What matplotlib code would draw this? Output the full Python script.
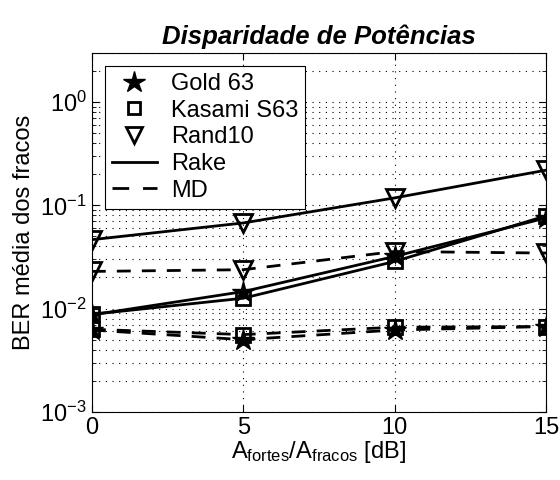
import numpy as np
import matplotlib.pyplot as plt

plt.rcParams['font.family'] = ['Liberation Sans', 'DejaVu Sans']
plt.rcParams['mathtext.fontset'] = 'custom'
plt.rcParams['mathtext.rm'] = 'Liberation Sans'
plt.rcParams['mathtext.it'] = 'Liberation Sans'

# dados
snr = [0, 5, 10, 15]
gold_rake = [0.0087, 0.0146, 0.032, 0.0755]
gold_md = [0.0062, 0.0050, 0.0062, 0.0067]
kasami_rake = [0.0088, 0.0126, 0.0286, 0.079]
kasami_md = [0.0063, 0.0056, 0.0066, 0.0067]
rand_rake = [0.0465, 0.0675, 0.118, 0.219]
rand_md = [0.0229, 0.0238, 0.0357, 0.0345]

fig = plt.figure(figsize=(5.6, 4.8), dpi=100)
ax = fig.add_axes([0.164, 0.142, 0.811, 0.748])

lw = 2
ms = 13
ax.semilogy(snr, gold_rake, 'k-', marker='*', ms=ms + 3, lw=lw)
ax.semilogy(snr, kasami_rake, 'k-', marker='s', ms=ms - 3, mfc='none', mew=lw, lw=lw)
ax.semilogy(snr, rand_rake, 'k-', marker='v', ms=ms, mfc='none', mew=lw, lw=lw)
ax.semilogy(snr, gold_md, 'k--', marker='*', ms=ms + 3, lw=lw, dashes=(5, 4))
ax.semilogy(snr, kasami_md, 'k--', marker='s', ms=ms - 3, mfc='none', mew=lw, lw=lw, dashes=(5, 4))
ax.semilogy(snr, rand_md, 'k--', marker='v', ms=ms, mfc='none', mew=lw, lw=lw, dashes=(5, 4))

# entradas da legenda
h1, = ax.plot([], [], 'k*', ms=ms + 3)
h2, = ax.plot([], [], 'ks', ms=ms - 5, mfc='none', mew=lw)
h3, = ax.plot([], [], 'kv', ms=ms - 1, mfc='none', mew=lw)
h4, = ax.plot([], [], 'k-', lw=lw)
h5, = ax.plot([], [], 'k--', lw=lw, dashes=(6, 5))
leg = ax.legend([h1, h2, h3, h4, h5], ['Gold 63', 'Kasami S63', 'Rand10', 'Rake', 'MD'],
                loc='upper left', fontsize=17, fancybox=False, framealpha=1,
                edgecolor='black', handlelength=1.9, labelspacing=0.2,
                borderpad=0.3, borderaxespad=0.55, handletextpad=0.6)
leg.get_frame().set_linewidth(0.8)

ax.set_xlim(0, 15)
ax.set_ylim(1e-3, 3)
ax.set_xticks([0, 5, 10, 15])
grid_ls = (0, (1, 5))
ax.grid(True, which='major', ls=grid_ls, color='k', lw=0.8)
ax.grid(True, which='minor', axis='y', ls=grid_ls, color='k', lw=0.8)
ax.tick_params(which='both', direction='in', top=True, right=True, labelsize=17)
ax.tick_params(which='major', length=5)
ax.tick_params(which='minor', length=3)
for s in ax.spines.values():
    s.set_linewidth(0.8)

ax.set_title('Disparidade de Potências', fontsize=18.5, fontweight='bold', style='italic')
ax.set_xlabel(r'A$_{\mathrm{fortes}}$/A$_{\mathrm{fracos}}$ [dB]', fontsize=17, labelpad=0)
ax.set_ylabel('BER média dos fracos', fontsize=17)

fig.savefig('out.png', dpi=100)
